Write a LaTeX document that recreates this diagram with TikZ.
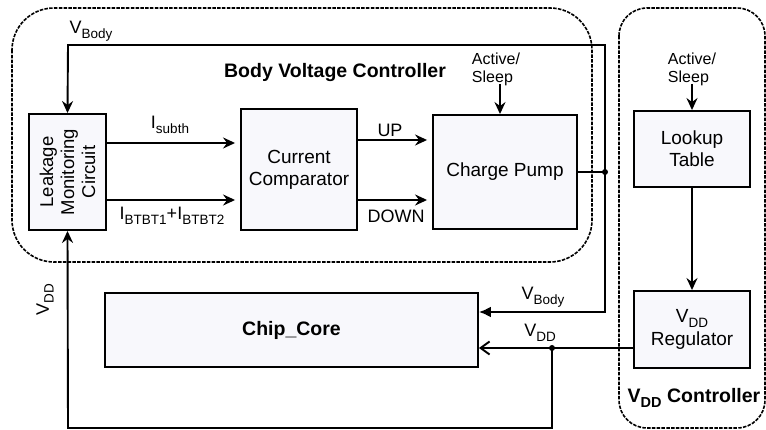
\documentclass[tikz,border=0pt]{standalone}
\usepackage{fontspec}
\setmainfont{Liberation Sans}
\usetikzlibrary{arrows.meta}
\definecolor{boxfill}{RGB}{248,248,252}
\newcommand\lowsub[1]{\raisebox{-0.5ex}{\fontsize{13.5}{13.5}\selectfont #1}}
\newcommand\lowsubb[1]{\raisebox{-0.55ex}{\fontsize{14.5}{14.5}\selectfont\bfseries #1}}
\begin{document}
\begin{tikzpicture}[x=1pt,y=-1pt,
  blk/.style={draw, line width=1.9pt, fill=boxfill, inner sep=0pt, align=center,
              font=\fontsize{19}{22}\selectfont},
  grp/.style={draw, line width=1.6pt, dash pattern=on 3.5pt off 1.3pt},
  wire/.style={line width=1.9pt},
  arr/.style={wire, -{Stealth[length=12pt,width=11pt,inset=4pt]}},
  lbl/.style={inner sep=0pt, font=\fontsize{18}{20}\selectfont},
  small/.style={inner sep=0pt, align=left, font=\fontsize{16}{18}\selectfont},
  bold/.style={inner sep=0pt, font=\fontsize{19.5}{22}\selectfont\bfseries},
  dot/.style={circle, fill=black, inner sep=0pt, minimum size=6pt}]
\useasboundingbox (0,0) rectangle (766,430);

% group outlines
\draw[grp, rounded corners=42pt] (12,8) rectangle (592,262);
\draw[grp, rounded corners=28pt] (619,8) rectangle (765,428);

% blocks
\node[blk, minimum width=77pt, minimum height=116pt] (LMC) at (67.5,172) {};
\node[inner sep=0pt, rotate=90, align=center, font=\fontsize{18.5}{21}\selectfont] (LMCt) at (67.5,172) {Leakage\\Monitoring\\Circuit};
\node[blk, minimum width=116pt, minimum height=121pt] (CC) at (299,169.5) {Current\\Comparator};
\node[blk, minimum width=144pt, minimum height=114pt] (CP) at (505,172) {Charge Pump};
\node[blk, minimum width=116pt, minimum height=76pt] (LT) at (692,149) {Lookup\\Table};
\node[blk, minimum width=116pt, minimum height=77pt] (REG) at (692,329.5) {V\lowsub{DD}\\[1pt]Regulator};
\node[blk, minimum width=373pt, minimum height=74pt, font=\fontsize{19.5}{22}\selectfont\bfseries] (CORE) at (291.5,330) {Chip\_Core};

% titles
\node[bold] (t1) at (335,73) {Body Voltage Controller};
\node[bold] (t2) at (694,398) {V\lowsubb{DD} Controller};

% helper coordinates
\coordinate (tl) at (68,45);
\coordinate (tr) at (605,45);
\coordinate (jn) at (605,172);
\coordinate (br) at (605,312);
\coordinate (vj) at (552,348);
\coordinate (bb) at (552,428);
\coordinate (bl) at (68,428);
\coordinate (ya) at (0,143);
\coordinate (yb) at (0,200);
\coordinate (yu) at (0,140);

% V_Body feedback loop
\draw[wire] (CP.east) -- (jn);
\node[dot] (d1) at (jn) {};
\draw[arr] (jn) -- (tr) -- (tl) -- (LMC.north);
\draw[wire, -{Latex[length=12pt,width=11pt]}] (jn) -- (br) -- (CORE.east |- br);

% currents
\draw[arr, shorten >=5pt] (LMC.east |- ya) -- (CC.west |- ya);
\draw[arr, shorten >=5pt] (LMC.east |- yb) -- (CC.west |- yb);
\draw[arr, shorten >=5pt] (CC.east |- yu) -- (CP.west |- yu);
\draw[arr, shorten >=5pt] (CC.east |- yb) -- (CP.west |- yb);

% active/sleep
\node[small] (as1) at (496,69) {Active/\\Sleep};
\draw[arr] (500,84) -- (CP.north -| 500,0);
\node[small] (as2) at (692,69) {Active/\\Sleep};
\draw[arr] (692,84) -- (LT.north);
\draw[arr] (LT.south) -- (REG.north);

% VDD distribution
\draw[wire, -{Straight Barb[length=9pt,width=13pt]}] (REG.west |- vj) -- (CORE.east |- vj);
\node[dot] (d2) at (vj) {};
\draw[arr] (vj) -- (bb) -- (bl) -- (LMC.south);

% labels
\node[lbl] (l1) at (91,31) {V\lowsub{Body}};
\node[lbl] (l2) at (170,125) {I\lowsub{subth}};
\node[lbl] (l3) at (172,216) {I\lowsub{BTBT1}+I\lowsub{BTBT2}};
\node[lbl] (l4) at (390,130) {UP};
\node[lbl] (l5) at (396,216) {DOWN};
\node[lbl] (l6) at (543,297) {V\lowsub{Body}};
\node[lbl] (l7) at (540,333) {V\lowsub{DD}};
\node[lbl, rotate=90] (l8) at (45,300) {V\lowsub{DD}};
\end{tikzpicture}
\end{document}
